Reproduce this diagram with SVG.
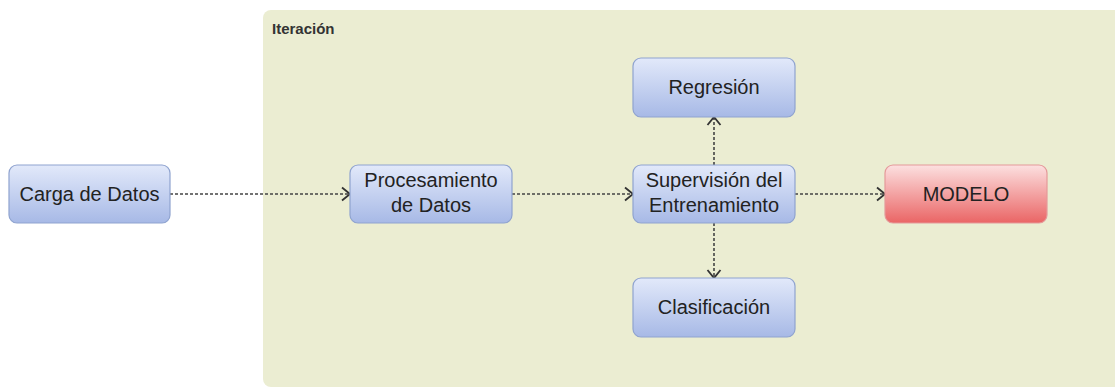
<svg xmlns="http://www.w3.org/2000/svg" width="1115" height="390" viewBox="0 0 1115 390">
<defs>
<linearGradient id="gb" x1="0" y1="0" x2="0" y2="1"><stop offset="0" stop-color="#e2e9fa"/><stop offset="1" stop-color="#a7b9e6"/></linearGradient>
<linearGradient id="gr" x1="0" y1="0" x2="0" y2="1"><stop offset="0" stop-color="#fce0e0"/><stop offset="1" stop-color="#ea6565"/></linearGradient>
<marker id="ar" markerWidth="14" markerHeight="16" refX="10" refY="8" orient="auto" markerUnits="userSpaceOnUse"><path d="M2,1.5 L10,8 L2,14.5" fill="none" stroke="#333" stroke-width="1.8"/></marker>
</defs>
<style>
.n{fill:url(#gb);stroke:#8fa3cf;stroke-width:1.2}
.m{fill:url(#gr);stroke:#e49a9a;stroke-width:1.2}
.t{font-family:"Liberation Sans",Arial,sans-serif;font-size:20px;fill:#222;text-anchor:middle}
.c{fill:none;stroke:#444;stroke-width:1.6;stroke-dasharray:3,2;marker-end:url(#ar)}
</style>
<rect width="1115" height="390" fill="#fff"/>
<g id="iteracion">
<rect x="263" y="10" width="870" height="377" rx="8" fill="#ebedd2"/>
<text x="272" y="34" font-family="Liberation Sans,Arial,sans-serif" font-size="15" font-weight="bold" fill="#333">Iteración</text>
</g>
<g id="connectors">
<line class="c" x1="170" y1="194" x2="350" y2="194"/>
<line class="c" x1="512" y1="194" x2="633" y2="194"/>
<line class="c" x1="795" y1="194" x2="885" y2="194"/>
<line class="c" x1="714" y1="165" x2="714" y2="117"/>
<line class="c" x1="714" y1="223" x2="714" y2="278"/>
</g>
<g id="carga"><rect class="n" x="9" y="165" width="161" height="58" rx="8"/><text class="t" x="89.5" y="201">Carga de Datos</text></g>
<g id="procesamiento"><rect class="n" x="350" y="165" width="162" height="58" rx="8"/><text class="t" x="431" y="187">Procesamiento</text><text class="t" x="431" y="212">de Datos</text></g>
<g id="regresion"><rect class="n" x="633" y="58" width="162" height="59" rx="8"/><text class="t" x="714" y="94">Regresión</text></g>
<g id="supervision"><rect class="n" x="633" y="165" width="162" height="58" rx="8"/><text class="t" x="714" y="187">Supervisión del</text><text class="t" x="714" y="212">Entrenamiento</text></g>
<g id="modelo"><rect class="m" x="885" y="165" width="162" height="58" rx="8"/><text class="t" x="966" y="201">MODELO</text></g>
<g id="clasificacion"><rect class="n" x="633" y="278" width="162" height="59" rx="8"/><text class="t" x="714" y="314">Clasificación</text></g>
</svg>
